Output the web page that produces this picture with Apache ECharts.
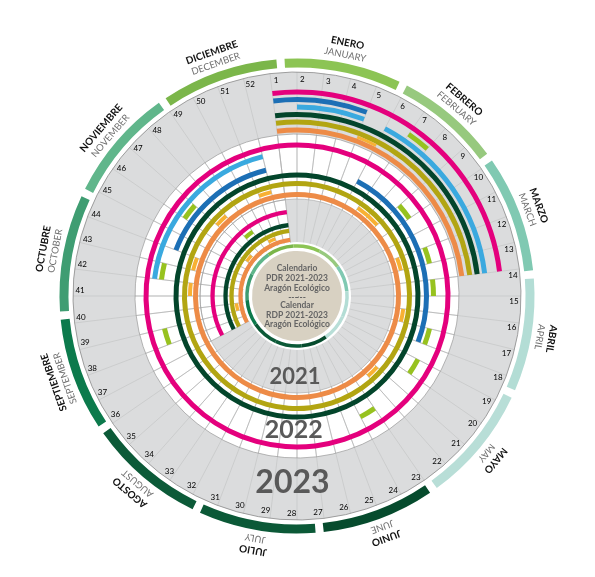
<!DOCTYPE html>
<html><head><meta charset="utf-8">
<script src="https://cdn.jsdelivr.net/npm/echarts@6/dist/echarts.min.js"></script>
<style>html,body{margin:0;padding:0;background:#fff}#c{width:595px;height:577px}</style>
</head><body><div id="c"></div>
<script>
// ---------------- DATA ----------------
const weekLabels = ['1','2','3','4','5','6','7','8','9','10','11','12','13','14','15','16','17','18','19','20','21','22','23','24','25','26','27','28','29','30','31','32','33','34','35','36','37','38','39','40','41','42','43','44','45','46','47','48','49','50','51','52'];
const monthsEs = ['ENERO','FEBRERO','MARZO','ABRIL','MAYO','JUNIO','JULIO','AGOSTO','SEPTIEMBRE','OCTUBRE','NOVIEMBRE','DICIEMBRE'];
const monthsEn = ['JANUARY','FEBRUARY','MARCH','APRIL','MAY','JUNE','JULY','AUGUST','SEPTEMBER','OCTOBER','NOVEMBER','DECEMBER'];
const monthDays = [31,28,31,30,31,30,31,31,30,31,30,31];
const years = ['2021','2022','2023'];
// weeks of each year inside the programme period (white cells): [year, firstWeek, lastWeek]
const activeWeeks = [[2021,37,52],[2022,1,52]];
// activity segments per line: [year, firstWeek, lastWeek]
const magenta = [[2021,37,52],[2022,1,52],[2023,1,13]];
const darkBlue = [[2022,6,17],[2022,44,51],[2023,1,4]];
const lightBlue = [[2022,42,51],[2023,2,4],[2023,6,13]];
const lightGreen = [[2021,48,48],[2022,9,9],[2022,12,12],[2022,14,14],[2022,17,17],[2022,19,19],[2022,23,23],[2022,38,38],[2022,42,42],[2022,46,46],[2023,7,7]];
const darkGreen = [[2021,37,52],[2022,1,52],[2023,1,13]];
const olive = [[2021,37,52],[2022,1,52],[2023,1,13]];
const lightOrange = [[2021,39,39],[2021,46,46],[2021,50,50],[2022,7,8],[2022,12,12],[2022,16,16],[2022,21,21],[2022,41,41],[2022,43,43],[2022,47,47],[2022,51,51],[2023,5,5]];
const orange = [[2021,37,52],[2022,1,52],[2023,1,13]];
const centerLines = ['Calendario','PDR 2021-2023','Aragón Ecológico','--~--','Calendar','RDP 2021-2023','Aragón Ecológico'];

// ---------------- LAYOUT / STYLE ----------------
const WEEKS = weekLabels.length, DAYS = monthDays.reduce((a,b)=>a+b,0);
const C = [297, 296];
const DISK_R = 224;
const bandR = {2021:[53,97], 2022:[97,162]};
const trackR = {
  magenta:{2021:84.5,2022:151,2023:204},
  lightBlue:{2022:143.5,2023:189},
  lightGreen:{2021:78,2022:136.5,2023:196.5},
  darkBlue:{2022:129.5,2023:196.5},
  darkGreen:{2021:71.5,2022:121,2023:181.5},
  olive:{2021:65.5,2022:112.5,2023:174},
  lightOrange:{2021:61,2022:107,2023:170},
  orange:{2021:56.5,2022:101.5,2023:166}
};
const trackW = {2021:4.3,2022:5,2023:5};
const trackWSmall = {2021:3.5,2022:4,2023:3};
const colors = {magenta:'#e4007d',lightBlue:'#3aa9df',darkBlue:'#1c6fb5',lightGreen:'#97c21f',darkGreen:'#03452b',olive:'#b2a512',lightOrange:'#f8b133',orange:'#ed8b47'};
const monthColors = ['#8cc454','#97c97e','#80c9b2','#b3ddd5','#b8ded7','#064b2d','#0b5937','#0c5a38','#0c7a4c','#3f9d72','#60b68b','#7bb64a'];
const yearLabelR = {2021:81,2022:134,2023:187};
const yearLabelSize = {2021:22,2022:25,2023:32};
const FONT = 'Lato, "Open Sans", sans-serif';

function sec(api, cs, rIn, rOut, v0, v1, span, style) {
  const cx = cs.cx, cy = cs.cy;
  const pa = api.coord([rOut, v0]), pb = api.coord([rOut, v1]), pi = api.coord([rIn, v0]);
  const R = Math.hypot(pa[0]-cx, pa[1]-cy), R0 = Math.hypot(pi[0]-cx, pi[1]-cy);
  let a0 = Math.atan2(pa[1]-cy, pa[0]-cx), a1 = Math.atan2(pb[1]-cy, pb[0]-cx);
  if (v1 - v0 >= span) a1 = a0 + 2*Math.PI; else while (a1 <= a0) a1 += 2*Math.PI;
  return {type:'sector', shape:{cx, cy, r0:R0, r:R, startAngle:a0, endAngle:a1, clockwise:true}, style};
}
function arc(api, cs, r, v0, v1, span, style) {
  const cx = cs.cx, cy = cs.cy;
  const pa = api.coord([r, v0]), pb = api.coord([r, v1]);
  const R = Math.hypot(pa[0]-cx, pa[1]-cy);
  let a0 = Math.atan2(pa[1]-cy, pa[0]-cx), a1 = Math.atan2(pb[1]-cy, pb[0]-cx);
  if (v1 - v0 >= span) a1 = a0 + 2*Math.PI; else while (a1 <= a0) a1 += 2*Math.PI;
  return {type:'arc', shape:{cx, cy, r:R, startAngle:a0, endAngle:a1, clockwise:true}, style:Object.assign({fill:null}, style)};
}

const series = [];
// background disk, white programme bands, grid
series.push({
  type:'custom', coordinateSystem:'polar', polarIndex:0, silent:true, z:1,
  data:[[0,0]],
  renderItem(params, api) {
    const cs = params.coordSys, ch = [];
    ch.push(sec(api, cs, 0, DISK_R, 0, WEEKS, WEEKS, {fill:'#dbdcdd'}));
    activeWeeks.forEach(([y,f,l]) => {
      ch.push(sec(api, cs, bandR[y][0], bandR[y][1], f-1, l, WEEKS, {fill:'#ffffff'}));
    });
    // radial week lines
    weekLabels.forEach((w, i) => {
      const p0 = api.coord([53, i]), p1 = api.coord([DISK_R, i]);
      ch.push({type:'line', shape:{x1:p0[0],y1:p0[1],x2:p1[0],y2:p1[1]}, style:{stroke:'#c4c5c6', lineWidth:0.7}});
    });
    activeWeeks.forEach(([y,f,l]) => {
      for (let v = f-1; v <= l; v++) {
        const p0 = api.coord([bandR[y][0], v]), p1 = api.coord([bandR[y][1], v]);
        ch.push({type:'line', shape:{x1:p0[0],y1:p0[1],x2:p1[0],y2:p1[1]}, style:{stroke:'#adadad', lineWidth:0.6}});
      }
      ch.push(arc(api, cs, bandR[y][1], f-1, l, WEEKS, {stroke:'#9a9a9a', lineWidth:0.7}));
      ch.push(arc(api, cs, bandR[y][0], f-1, l, WEEKS, {stroke:'#a5a5a5', lineWidth:0.6}));
    });
    ch.push(arc(api, cs, DISK_R, 0, WEEKS, WEEKS, {stroke:'#8a8a8a', lineWidth:0.8}));
    return {type:'group', children:ch};
  }
});

// activity tracks
const trackData = {orange, olive, darkGreen, darkBlue, lightBlue, magenta, lightGreen, lightOrange};
Object.keys(trackData).forEach(name => {
  series.push({
    type:'custom', name, coordinateSystem:'polar', polarIndex:0, silent:true, z:2,
    data: trackData[name],
    renderItem(params, api) {
      const y = api.value(0), f = api.value(1), l = api.value(2);
      const r = trackR[name][y];
      const w = (name === 'lightOrange') ? trackWSmall[y] : trackW[y];
      return sec(api, params.coordSys, r - w/2, r + w/2, f-1, l, WEEKS, {fill:colors[name]});
    }
  });
});

// week labels
series.push({
  type:'custom', coordinateSystem:'polar', polarIndex:0, silent:true, z:4,
  data: weekLabels.map((w,i)=>[i, w]),
  renderItem(params, api) {
    const i = api.value(0);
    const p = api.coord([217, i + 0.2]);
    return {type:'text', x:p[0], y:p[1], style:{text:weekLabels[i], fill:'#000000', font:'8px '+FONT, align:'center', verticalAlign:'middle'}};
  }
});

// year labels
series.push({
  type:'custom', coordinateSystem:'polar', polarIndex:0, silent:true, z:4,
  data: years.map((y,i)=>[i]),
  renderItem(params, api) {
    const y = years[api.value(0)];
    const p = api.coord([yearLabelR[y], 27.2]);
    return {type:'text', x:p[0], y:p[1], style:{text:y, fill:'#595959', font:'bold '+yearLabelSize[y]+'px '+FONT, align:'center', verticalAlign:'middle'}};
  }
});

// month arcs + labels + centre ring (polar 1, days)
const monthStart = monthDays.map((d,i)=>monthDays.slice(0,i).reduce((a,b)=>a+b,0));
series.push({
  type:'custom', coordinateSystem:'polar', polarIndex:1, silent:true, z:3,
  data: monthsEs.map((m,i)=>[i]),
  renderItem(params, api) {
    const i = api.value(0), cs = params.coordSys;
    const s = monthStart[i], e = s + monthDays[i];
    const ch = [];
    ch.push(sec(api, cs, 228.5, 237.5, s + 1, e - 1, DAYS, {fill:monthColors[i]}));
    ch.push(sec(api, cs, 48.3, 51.8, s, e, DAYS, {fill:monthColors[i]}));
    const mid = s + monthDays[i]/2;
    [[258, monthsEs[i], 'bold 10px '+FONT, '#111'], [246, monthsEn[i], '9.5px '+FONT, '#707070']].forEach(([r, t, f, col]) => {
      const p = api.coord([r, mid]);
      const th = Math.atan2(p[0]-cs.cx, -(p[1]-cs.cy));
      ch.push({type:'text', x:p[0], y:p[1], rotation:-th, style:{text:t, font:f, fill:col, align:'center', verticalAlign:'middle'}});
    });
    return {type:'group', children:ch};
  }
});

// centre discs
series.push({
  type:'custom', coordinateSystem:'polar', polarIndex:1, silent:true, z:2.5,
  data:[[0,0]],
  renderItem(params, api) {
    const cs = params.coordSys;
    return {type:'group', children:[
      sec(api, cs, 0, 54, 0, DAYS, DAYS, {fill:'#ffffff'}),
      sec(api, cs, 0, 45, 0, DAYS, DAYS, {fill:'#d8d1c2'})
    ]};
  }
});

const graphic = centerLines.map((t, i) => ({
  type:'text', x:C[0], y:C[1] - 28 + [0,10,20,29,37,47,56][i], z:10,
  style:{text:t, font:'bold 8.5px '+FONT, fill:'#656565', align:'center', verticalAlign:'middle'}
}));

const chart = echarts.init(document.getElementById('c'));
chart.setOption({
  animation:false,
  polar:[{center:C, radius:260},{center:C, radius:260}],
  angleAxis:[
    {polarIndex:0, type:'value', min:0, max:WEEKS, startAngle:90 + 360/WEEKS, clockwise:true, show:false},
    {polarIndex:1, type:'value', min:0, max:DAYS, startAngle:94, clockwise:true, show:false}
  ],
  radiusAxis:[
    {polarIndex:0, type:'value', min:0, max:260, show:false},
    {polarIndex:1, type:'value', min:0, max:260, show:false}
  ],
  graphic,
  series
});
</script></body></html>
